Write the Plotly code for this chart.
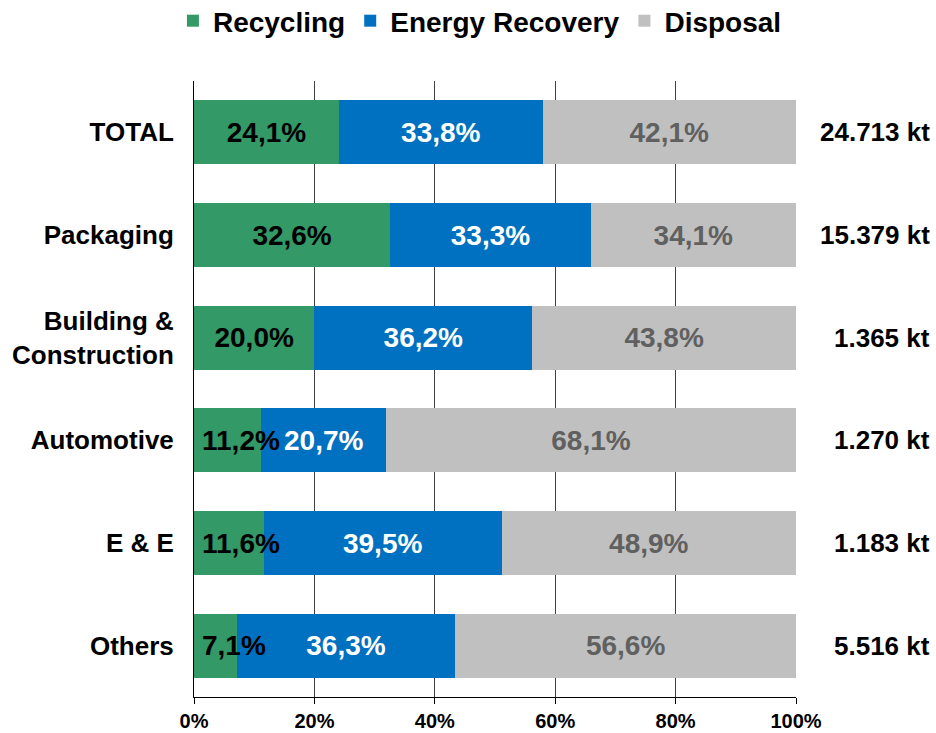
import plotly.graph_objects as go

# ---------------------------------------------------------------------------
# Data
# ---------------------------------------------------------------------------

categories = ["TOTAL", "Packaging", "Building &<br>Construction", "Automotive", "E & E", "Others"]
recycling = [24.1, 32.6, 20.0, 11.2, 11.6, 7.1]
energy_recovery = [33.8, 33.3, 36.2, 20.7, 39.5, 36.3]
disposal = [42.1, 34.1, 43.8, 68.1, 48.9, 56.6]
totals = ["24.713 kt", "15.379 kt", "1.365 kt", "1.270 kt", "1.183 kt", "5.516 kt"]
tick_vals = [0, 20, 40, 60, 80, 100]
tick_text = ["0%", "20%", "40%", "60%", "80%", "100%"]

FONT = "Liberation Sans, Arial, sans-serif"
MIN_FIT = 15  # segments narrower than this (in %) get their label from the bar start


def pct(v):
    return f"{v:.1f}".replace(".", ",") + "%"


series = [
    ("Recycling", recycling, "#339966", "#000000"),
    ("Energy Recovery", energy_recovery, "#0070C0", "#ffffff"),
    ("Disposal", disposal, "#C0C0C0", "#606060"),
]

fig = go.Figure()
for name, vals, color, txt_color in series:
    fig.add_trace(go.Bar(
        y=categories, x=vals, name=name, orientation="h",
        marker=dict(color=color, line=dict(width=0)),
        text=[pct(v) if v >= MIN_FIT else "" for v in vals],
        textposition="inside", insidetextanchor="middle", textangle=0,
        constraintext="none", cliponaxis=False,
        textfont=dict(family=FONT, size=28, color=txt_color, weight="bold"),
        hovertemplate=f"{name}<br>%{{y}}: %{{x:.1f}}%<extra></extra>",
    ))

# labels of thin recycling segments overflow to the right, like in Excel
for cat, v in zip(categories, recycling):
    if v < MIN_FIT:
        fig.add_annotation(
            x=0, xref="x", y=cat, yref="y", xanchor="left", xshift=6,
            text=pct(v), showarrow=False,
            font=dict(family=FONT, size=28, color="#000000", weight="bold"),
        )

# totals on the right side
for cat, tot in zip(categories, totals):
    fig.add_annotation(
        x=1.226, xref="paper", y=cat, yref="y",
        text=tot, showarrow=False, xanchor="right",
        font=dict(family=FONT, size=26, color="#000000", weight="bold"),
    )

fig.update_layout(
    barmode="stack",
    bargap=0.376,
    width=936, height=733,
    margin=dict(l=194, r=140, t=81, b=36, autoexpand=False),
    plot_bgcolor="white",
    paper_bgcolor="white",
    uniformtext=dict(minsize=22, mode="show"),
    legend=dict(
        orientation="h", x=-0.035, xanchor="left",
        y=1.138, yanchor="top",
        font=dict(family=FONT, size=28, color="#000000", weight="bold"),
        traceorder="normal",
    ),
    font=dict(family=FONT, color="#000000"),
)
fig.update_xaxes(
    range=[0, 100], tickvals=tick_vals, ticktext=tick_text,
    showgrid=True, gridcolor="#404040", gridwidth=1,
    showline=True, linecolor="#000000", linewidth=1,
    ticks="outside", ticklen=6, tickcolor="#000000",
    tickfont=dict(family=FONT, size=20, color="#000000", weight="bold"),
    zeroline=False, fixedrange=True, automargin=False,
)
fig.update_yaxes(
    autorange="reversed",
    showline=True, linecolor="#000000", linewidth=1,
    ticks="", ticklabelstandoff=14,
    tickfont=dict(family=FONT, size=26, color="#000000", weight="bold"),
    fixedrange=True, automargin=False,
)

# drop the default page margin so the figure sits at the window's corner
fig.write_html(
    "out.html",
    config={"displayModeBar": False},
    post_script="document.body.style.margin = '0';",
)
